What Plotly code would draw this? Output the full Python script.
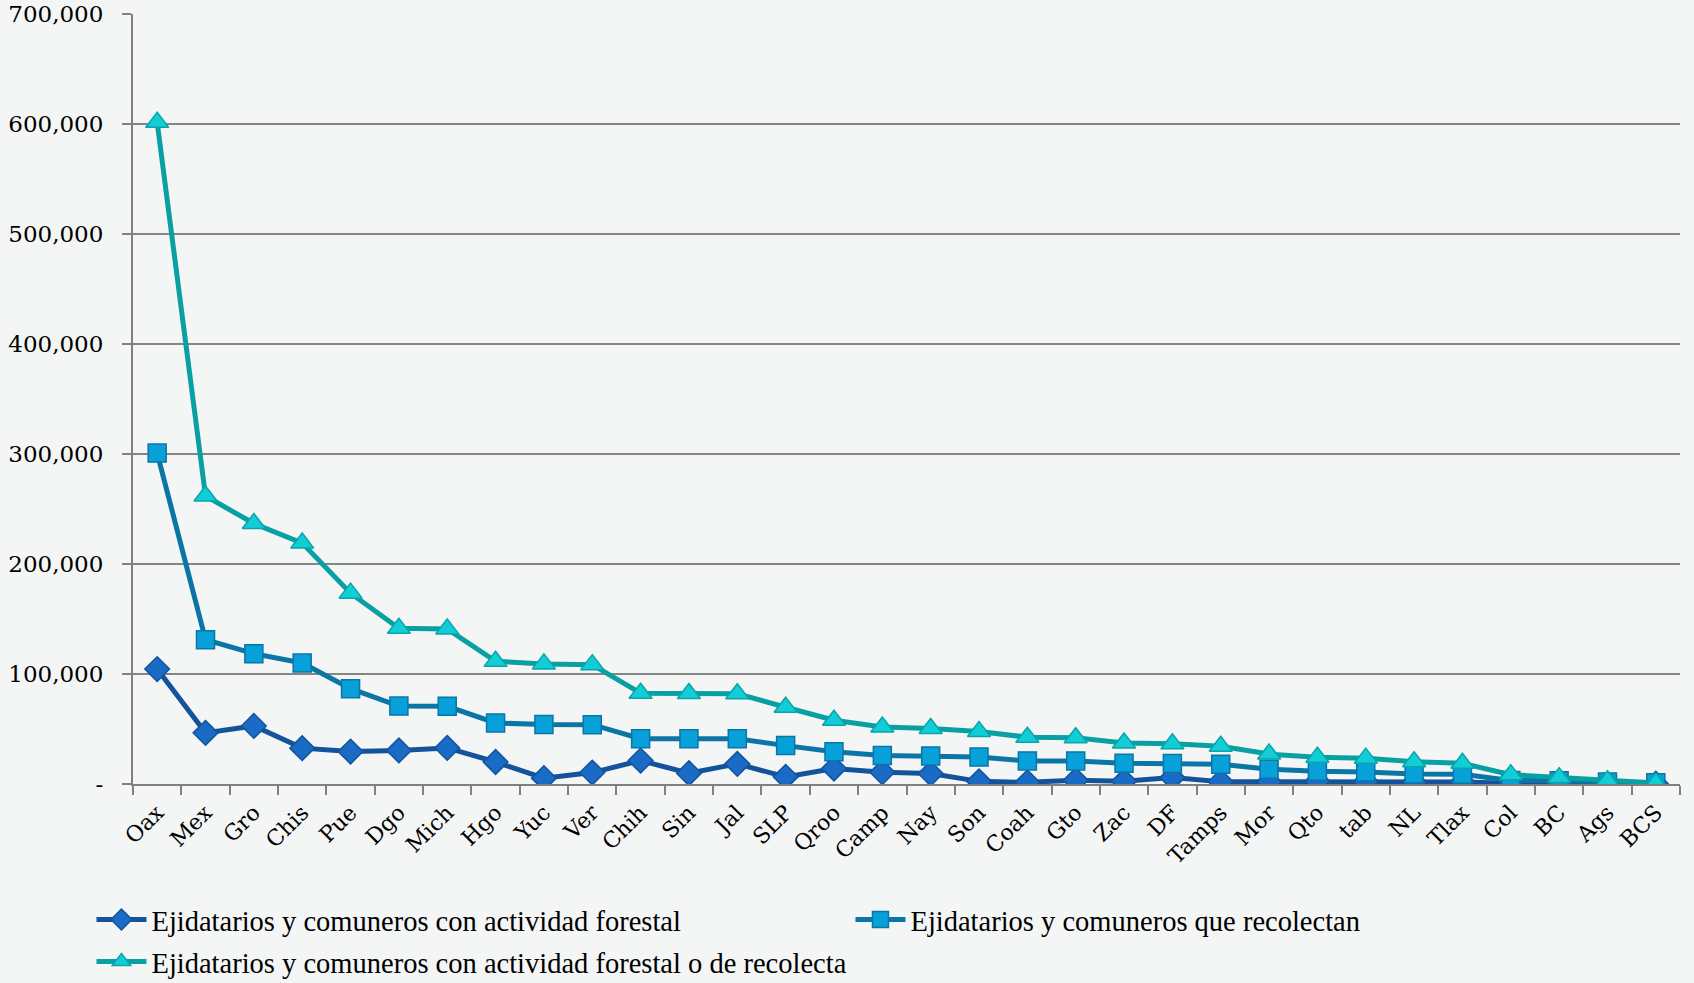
import plotly.graph_objects as go

estados = ["Oax", "Mex", "Gro", "Chis", "Pue", "Dgo", "Mich", "Hgo", "Yuc", "Ver",
           "Chih", "Sin", "Jal", "SLP", "Qroo", "Camp", "Nay", "Son", "Coah", "Gto",
           "Zac", "DF", "Tamps", "Mor", "Qto", "tab", "NL", "Tlax", "Col", "BC",
           "Ags", "BCS"]

forestal = [104500, 46500, 52800, 32600, 29500, 30500, 32800, 20000, 5300, 10400,
            21300, 9800, 18300, 6500, 14100, 10700, 9600, 2400, 1500, 3500,
            2500, 5800, 2100, 2000, 2600, 2200, 1600, 1800, 700, 400,
            300, 200]

recolectan = [300800, 131200, 118500, 110000, 86700, 70800, 70600, 55500, 54000, 53900,
              41200, 41100, 41200, 34900, 29300, 26000, 25500, 24500, 21000, 21000,
              18900, 18700, 18000, 13500, 11500, 11000, 9200, 8800, 3200, 3000,
              1800, 1200]

total = [601500, 261800, 236800, 219000, 173500, 141500, 141000, 111500, 109200, 108500,
         82500, 82300, 82000, 69800, 58000, 51800, 50400, 47800, 42500, 42000,
         37300, 36500, 34300, 27200, 24300, 23500, 20300, 18800, 8500, 5800,
         3000, 1000]

y_ticks = [0, 100000, 200000, 300000, 400000, 500000, 600000, 700000]
y_tick_text = ["-", "100,000", "200,000", "300,000", "400,000", "500,000", "600,000", "700,000"]

nombres = ["Ejidatarios y comuneros con actividad forestal",
           "Ejidatarios y comuneros que recolectan",
           "Ejidatarios y comuneros con actividad forestal o de recolecta"]

fig = go.Figure()
fig.add_trace(go.Scatter(
    x=estados, y=forestal, name=nombres[0], mode="lines+markers",
    line=dict(color="#13539b", width=5),
    marker=dict(symbol="diamond", size=19, color="#1a6bc6",
                line=dict(color="#13539b", width=1.5)),
    legend="legend",
))
fig.add_trace(go.Scatter(
    x=estados, y=recolectan, name=nombres[1], mode="lines+markers",
    line=dict(color="#0b76a6", width=5),
    marker=dict(symbol="square", size=18, color="#07a0d9",
                line=dict(color="#0b76a6", width=1.5)),
    legend="legend",
))
fig.add_trace(go.Scatter(
    x=estados, y=total, name=nombres[2], mode="lines+markers",
    line=dict(color="#08a0a2", width=5),
    marker=dict(symbol="triangle-up", size=20, color="#12cdd6",
                line=dict(color="#08a5aa", width=1.5)),
    legend="legend2",
))

legend_font = dict(size=28.5, family="Liberation Serif", color="#000000")

fig.update_layout(
    width=1694, height=983,
    margin=dict(l=133, r=14, t=14, b=199, autoexpand=False),
    paper_bgcolor="#f4f5f5",
    plot_bgcolor="#f4f5f5",
    font=dict(family="DejaVu Serif", color="#000000"),
    showlegend=True,
    legend=dict(
        orientation="h", xref="container", x=0.054, xanchor="left",
        yref="container", y=1 - 920 / 983, yanchor="middle",
        font=legend_font, entrywidth=694, entrywidthmode="pixels",
        bgcolor="rgba(0,0,0,0)", itemwidth=50,
    ),
    legend2=dict(
        orientation="h", xref="container", x=0.054, xanchor="left",
        yref="container", y=1 - 962 / 983, yanchor="middle",
        font=legend_font,
        bgcolor="rgba(0,0,0,0)", itemwidth=50,
    ),
)

fig.update_xaxes(
    type="category",
    showgrid=False,
    showline=True, linecolor="#808080", linewidth=2,
    ticks="outside", tickson="boundaries", ticklen=9, tickcolor="#808080", tickwidth=2,
    tickangle=-45, ticklabelstandoff=5,
    tickfont=dict(size=22, family="DejaVu Serif", color="#000000"),
    range=[-0.5, len(estados) - 0.5],
)
fig.update_yaxes(
    range=[0, 700000],
    tickvals=y_ticks, ticktext=y_tick_text,
    showgrid=True, gridcolor="#858585", gridwidth=1.5,
    showline=True, linecolor="#808080", linewidth=2,
    ticks="outside", ticklen=9, tickcolor="#808080", tickwidth=2,
    ticklabelstandoff=14,
    tickfont=dict(size=23, family="DejaVu Serif", color="#000000"),
    zeroline=False,
)

fig.write_html("out.html", config={"displayModeBar": False},
               post_script="document.body.style.margin='0';")
